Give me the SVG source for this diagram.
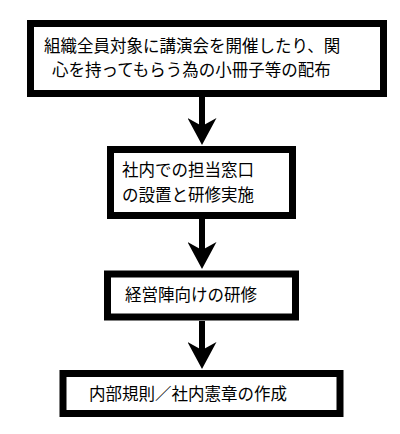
<svg xmlns="http://www.w3.org/2000/svg" width="400" height="434" viewBox="0 0 400 434">
<style>
.box{fill:#fff;stroke:#000;stroke-width:7}
.t{font-family:"Noto Sans CJK JP","Noto Sans",sans-serif;font-size:16.5px;fill:#000}
.c{stroke:#000;stroke-width:6;fill:none}
</style>
<defs>
<marker id="ah" viewBox="0 0 27 29" refX="8" refY="14.5" markerWidth="27" markerHeight="29" markerUnits="userSpaceOnUse" orient="auto">
<path d="M0,0 L27,14.5 L0,29 L8,14.5 Z" fill="#000"/>
</marker>
</defs>
<rect width="400" height="434" fill="#fff"/>
<g id="connectors">
<line class="c" x1="202" y1="97" x2="202" y2="126" marker-end="url(#ah)"/>
<line class="c" x1="202" y1="219" x2="202" y2="250" marker-end="url(#ah)"/>
<line class="c" x1="202" y1="321" x2="202" y2="350" marker-end="url(#ah)"/>
</g>
<g id="node1">
<rect class="box" x="30.5" y="23.5" width="353" height="70"/>
<text class="t" x="44" y="52">組織全員対象に講演会を開催したり、関</text>
<text class="t" x="52" y="75.5">心を持ってもらう為の小冊子等の配布</text>
</g>
<g id="node2">
<rect class="box" x="110.5" y="149.5" width="182" height="66"/>
<text class="t" x="122" y="176">社内での担当窓口</text>
<text class="t" x="122" y="200.5">の設置と研修実施</text>
</g>
<g id="node3">
<rect class="box" x="107.5" y="274" width="188" height="43"/>
<text class="t" x="125" y="301">経営陣向けの研修</text>
</g>
<g id="node4">
<rect class="box" x="63" y="373.5" width="277" height="40"/>
<text class="t" x="89" y="400">内部規則／社内憲章の作成</text>
</g>
</svg>
